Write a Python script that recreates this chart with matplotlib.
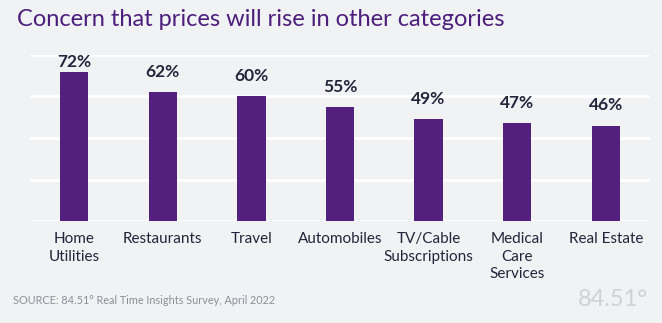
import matplotlib.pyplot as plt

categories = ["Home\nUtilities", "Restaurants", "Travel", "Automobiles",
              "TV/Cable\nSubscriptions", "Medical\nCare\nServices", "Real Estate"]
values = [72, 62, 60, 55, 49, 47, 46]
y_ticks = [0, 20, 40, 60, 80]

bg = "#f1f2f4"
purple = "#53207d"
dark = "#24243a"

plt.rcParams['font.family'] = ['Lato', 'DejaVu Sans']

fig = plt.figure(figsize=(6.62, 3.23), dpi=100, facecolor=bg)
ax = fig.add_axes([30 / 662, 102 / 323, 620 / 662, 166 / 323])
ax.set_facecolor(bg)

x = list(range(len(values)))
ax.bar(x, values, width=0.32, color=purple, zorder=3)

# value labels, the tallest one is squeezed under the top
for xi, v in zip(x, values):
    ax.text(xi, min(v + 9.8, 76.6), f"{v}%", ha='center', va='center',
            fontsize=12.5, fontweight='bold', color=dark, zorder=4)

ax.set_xlim(-0.5, 6.5)
ax.set_ylim(0, 80)
ax.set_yticks(y_ticks)
ax.yaxis.grid(True, color='white', linewidth=2, zorder=0)
ax.tick_params(left=False, bottom=False, labelleft=False, labelbottom=False)
for s in ax.spines.values():
    s.set_visible(False)

for xi, c in zip(x, categories):
    ax.text(xi, -5.5, c, ha='center', va='top', fontsize=11,
            color=dark, linespacing=1.3)

fig.text(17 / 662, 1 - 20 / 323, "Concern that prices will rise in other categories",
         fontsize=17, color="#4b1f7b", va='center', ha='left')
fig.text(13 / 662, 1 - 301 / 323, "SOURCE: 84.51° Real Time Insights Survey, April 2022",
         fontsize=7.8, color="#8e8e99", va='center', ha='left')
fig.text(648 / 662, 1 - 299 / 323, "84.51°", fontsize=17, color="#d0d1d7",
         va='center', ha='right')

fig.savefig("out.png", dpi=100, facecolor=bg)
